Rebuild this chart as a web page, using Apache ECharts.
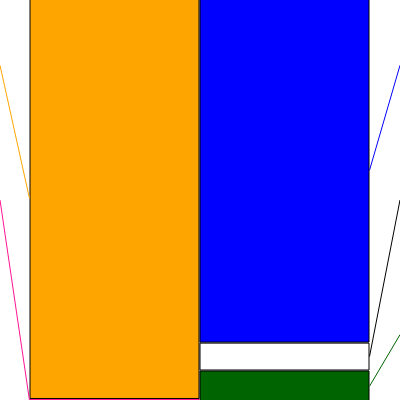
<!DOCTYPE html>
<html><head><meta charset="utf-8">
<script src="https://cdn.jsdelivr.net/npm/echarts@6/dist/echarts.min.js"></script>
<style>html,body{margin:0;padding:0;background:#fff}#c{width:400px;height:400px}</style>
</head><body><div id="c"></div>
<script>
// Data
const categories = ['資産', '負債・純資産'];
// left bar, bottom to top
const assetNames = ['固定資産', '流動資産'];
const assetValues = [0.75, 99.25];
// right bar, bottom to top
const liabNames = ['純資産', '固定負債', '流動負債'];
const liabValues = [7.8, 6.9, 85.3];

// Styles
const assetColors = ['#ff1493', '#ffa500'];
const assetLineColors = ['#ff1493', '#ffa500'];
const liabColors = ['#006400', '#ffffff', '#0000ff'];
const liabLineColors = ['#006400', '#000000', '#0000ff'];
const gridLeft = 29.5, gridRight = 30.5, gridTop = -2, gridBottom = -2, W = 400;
const band = (W - gridLeft - gridRight) / categories.length;
const leftLabelX = -gridLeft / band;
const rightLabelX = categories.length + gridRight / band;

function mids(vals) {
  const out = []; let acc = 0;
  for (const v of vals) { out.push(acc + v / 2); acc += v; }
  return out;
}
// label slots from top: slot k at 100 - (2k+1)*100/6
function slotY(k) { return 100 - (2 * k + 1) * 100 / 6; }

const series = [];
assetValues.forEach((v, i) => {
  series.push({
    type: 'bar', name: assetNames[i], stack: 'all', barWidth: '100%', clip: false,
    data: [v, '-'],
    itemStyle: i === 0
      ? { color: assetColors[i], borderColor: assetColors[i], borderWidth: 2 }
      : { color: assetColors[i], borderColor: '#000', borderWidth: 1 },
    z: i === 0 ? 4 : 2
  });
});
liabValues.forEach((v, i) => {
  series.push({
    type: 'bar', name: liabNames[i], stack: 'all', barWidth: '100%', clip: false,
    data: ['-', v],
    itemStyle: { color: liabColors[i], borderColor: '#000', borderWidth: 1 }
  });
});
const am = mids(assetValues), lm = mids(liabValues);
const nA = assetValues.length, nL = liabValues.length;
assetValues.forEach((v, i) => {
  const slot = nA - 1 - i; // top segment gets slot 0
  series.push({
    type: 'line', xAxisIndex: 1, yAxisIndex: 1, symbol: 'none', silent: true,
    lineStyle: { color: assetLineColors[i], width: 1 },
    data: [[0, am[i]], [leftLabelX, slotY(slot)]], z: 5
  });
});
liabValues.forEach((v, i) => {
  const slot = nL - 1 - i;
  series.push({
    type: 'line', xAxisIndex: 1, yAxisIndex: 1, symbol: 'none', silent: true,
    lineStyle: { color: liabLineColors[i], width: 1 },
    data: [[categories.length, lm[i]], [rightLabelX, slotY(slot)]], z: 5
  });
});

const chart = echarts.init(document.getElementById('c'));
chart.setOption({
  animation: false,
  backgroundColor: '#fff',
  grid: [
    { left: gridLeft, right: gridRight, top: gridTop, bottom: gridBottom, outerBoundsMode: 'none', containLabel: false },
    { left: 0, right: 0, top: gridTop, bottom: gridBottom, outerBoundsMode: 'none', containLabel: false }
  ],
  xAxis: [
    { type: 'category', data: categories, show: false, boundaryGap: true, gridIndex: 0 },
    { type: 'value', min: leftLabelX, max: rightLabelX, show: false, gridIndex: 1 }
  ],
  yAxis: [
    { type: 'value', min: 0, max: 100, show: false, gridIndex: 0 },
    { type: 'value', min: 0, max: 100, show: false, gridIndex: 1 }
  ],
  series
});
</script></body></html>
